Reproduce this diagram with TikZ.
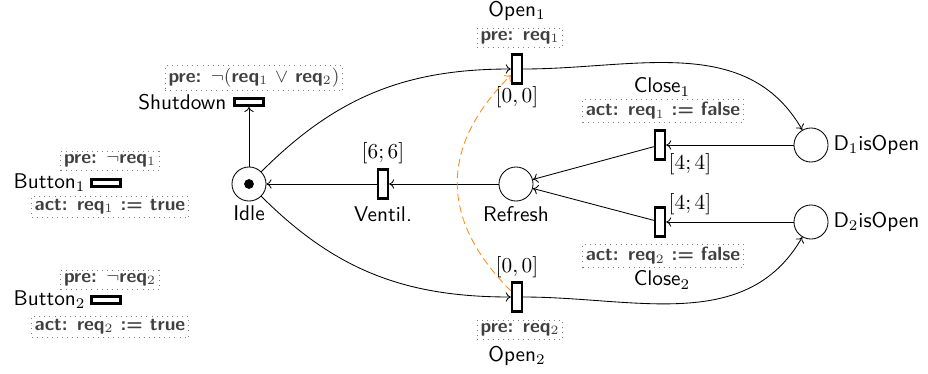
\documentclass[tikz,border=0pt]{standalone}
\usetikzlibrary{positioning,arrows.meta}
\definecolor{resetorange}{RGB}{255,140,26}
\tikzset{
  place/.style={circle, draw, minimum size=16pt, inner sep=0pt},
  vtrans/.style={rectangle, draw, line width=1.2pt, minimum width=4.6pt, minimum height=13.6pt, inner sep=0pt},
  htrans/.style={rectangle, draw, line width=1.2pt, minimum width=13.6pt, minimum height=3.4pt, inner sep=0pt},
  cond/.style={draw=gray, dotted, text=black!75, font=\sffamily\bfseries\small, inner sep=1.5pt},
  lbl/.style={font=\sffamily, inner sep=1pt},
  intv/.style={inner sep=1pt},
}
\begin{document}
\begin{tikzpicture}[x=0.47pt, y=0.47pt, >={To[length=2.4pt,width=4.4pt]}]
    \useasboundingbox (0,0) rectangle (928,373);

    % places
    \node[place] (idle) at (249,189) {};
    \node[circle, fill, inner sep=0pt, minimum size=4.6pt] (token) at (idle) {};
    \node[place] (refresh) at (516,189) {};
    \node[place] (d1) at (811,228) {};
    \node[place] (d2) at (811,151) {};
    \node[lbl] (idlelbl) at (249,160) {Idle};
    \node[lbl] (refreshlbl) at (516,159) {Refresh};
    \node[lbl, anchor=west] (d1lbl) at (831,228) {D$_1$isOpen};
    \node[lbl, anchor=west] (d2lbl) at (831,151) {D$_2$isOpen};

    % transitions
    \node[vtrans] (open1) at (517,304) {};
    \node[vtrans] (open2) at (517,76) {};
    \node[vtrans] (ventil) at (383,189) {};
    \node[vtrans] (close1) at (660,228) {};
    \node[vtrans] (close2) at (660,151) {};
    \node[htrans] (shutdown) at (249,271) {};
    \node[htrans] (button1) at (106,190) {};
    \node[htrans] (button2) at (106,73) {};

    \node[lbl] (open1lbl) at (517,362) {Open$_1$};
    \node[cond] (open1pre) at (520,335) {pre: req$_1$};
    \node[intv] (open1time) at (517,276) {$[0,0]$};
    \node[intv] (open2time) at (517,106) {$[0,0]$};
    \node[cond] (open2pre) at (520,43) {pre: req$_2$};
    \node[lbl] (open2lbl) at (517,17) {Open$_2$};
    \node[intv] (ventiltime) at (383,220) {$[6;6]$};
    \node[lbl] (ventillbl) at (383,159) {Ventil.};
    \node[lbl] (close1lbl) at (662,286) {Close$_1$};
    \node[cond] (close1act) at (663,262) {act: req$_1$ := false};
    \node[intv] (close1time) at (690,209) {$[4;4]$};
    \node[intv] (close2time) at (690,169) {$[4;4]$};
    \node[cond] (close2act) at (663,117) {act: req$_2$ := false};
    \node[lbl] (close2lbl) at (662,93) {Close$_2$};
    \node[lbl, anchor=east] (shutdownlbl) at (229,271) {Shutdown};
    \node[cond] (shutdownpre) at (254,295) {pre: $\neg($req$_1$ $\vee$ req$_2)$};
    \node[lbl, anchor=east] (button1lbl) at (88,190) {Button$_1$};
    \node[cond] (button1pre) at (110,212) {pre: $\neg$req$_1$};
    \node[cond] (button1act) at (110,166) {act: req$_1$ := true};
    \node[lbl, anchor=east] (button2lbl) at (88,73) {Button$_2$};
    \node[cond] (button2pre) at (110,93) {pre: $\neg$req$_2$};
    \node[cond] (button2act) at (110,46) {act: req$_2$ := true};

    % arcs
    \draw[->] (idle) -- (shutdown);
    \draw[->] (ventil) -- (idle);
    \draw[->] (refresh) -- (ventil);
    \draw[->] (close1) -- (refresh);
    \draw[->] (close2) -- (refresh);
    \draw[->] (d1) -- (close1);
    \draw[->] (d2) -- (close2);
    \draw[->] (idle) to[out=45,in=180] (open1);
    \draw[->] (idle) to[out=-45,in=180] (open2);
    \draw[->] (open1) to[out=0,in=120] (d1);
    \draw[->] (open2) to[out=0,in=-120] (d2);
    \draw[->, resetorange, dash pattern=on 3.5pt off 2pt] (open2) to[bend left=45, looseness=1.2] (open1);
\end{tikzpicture}
\end{document}
